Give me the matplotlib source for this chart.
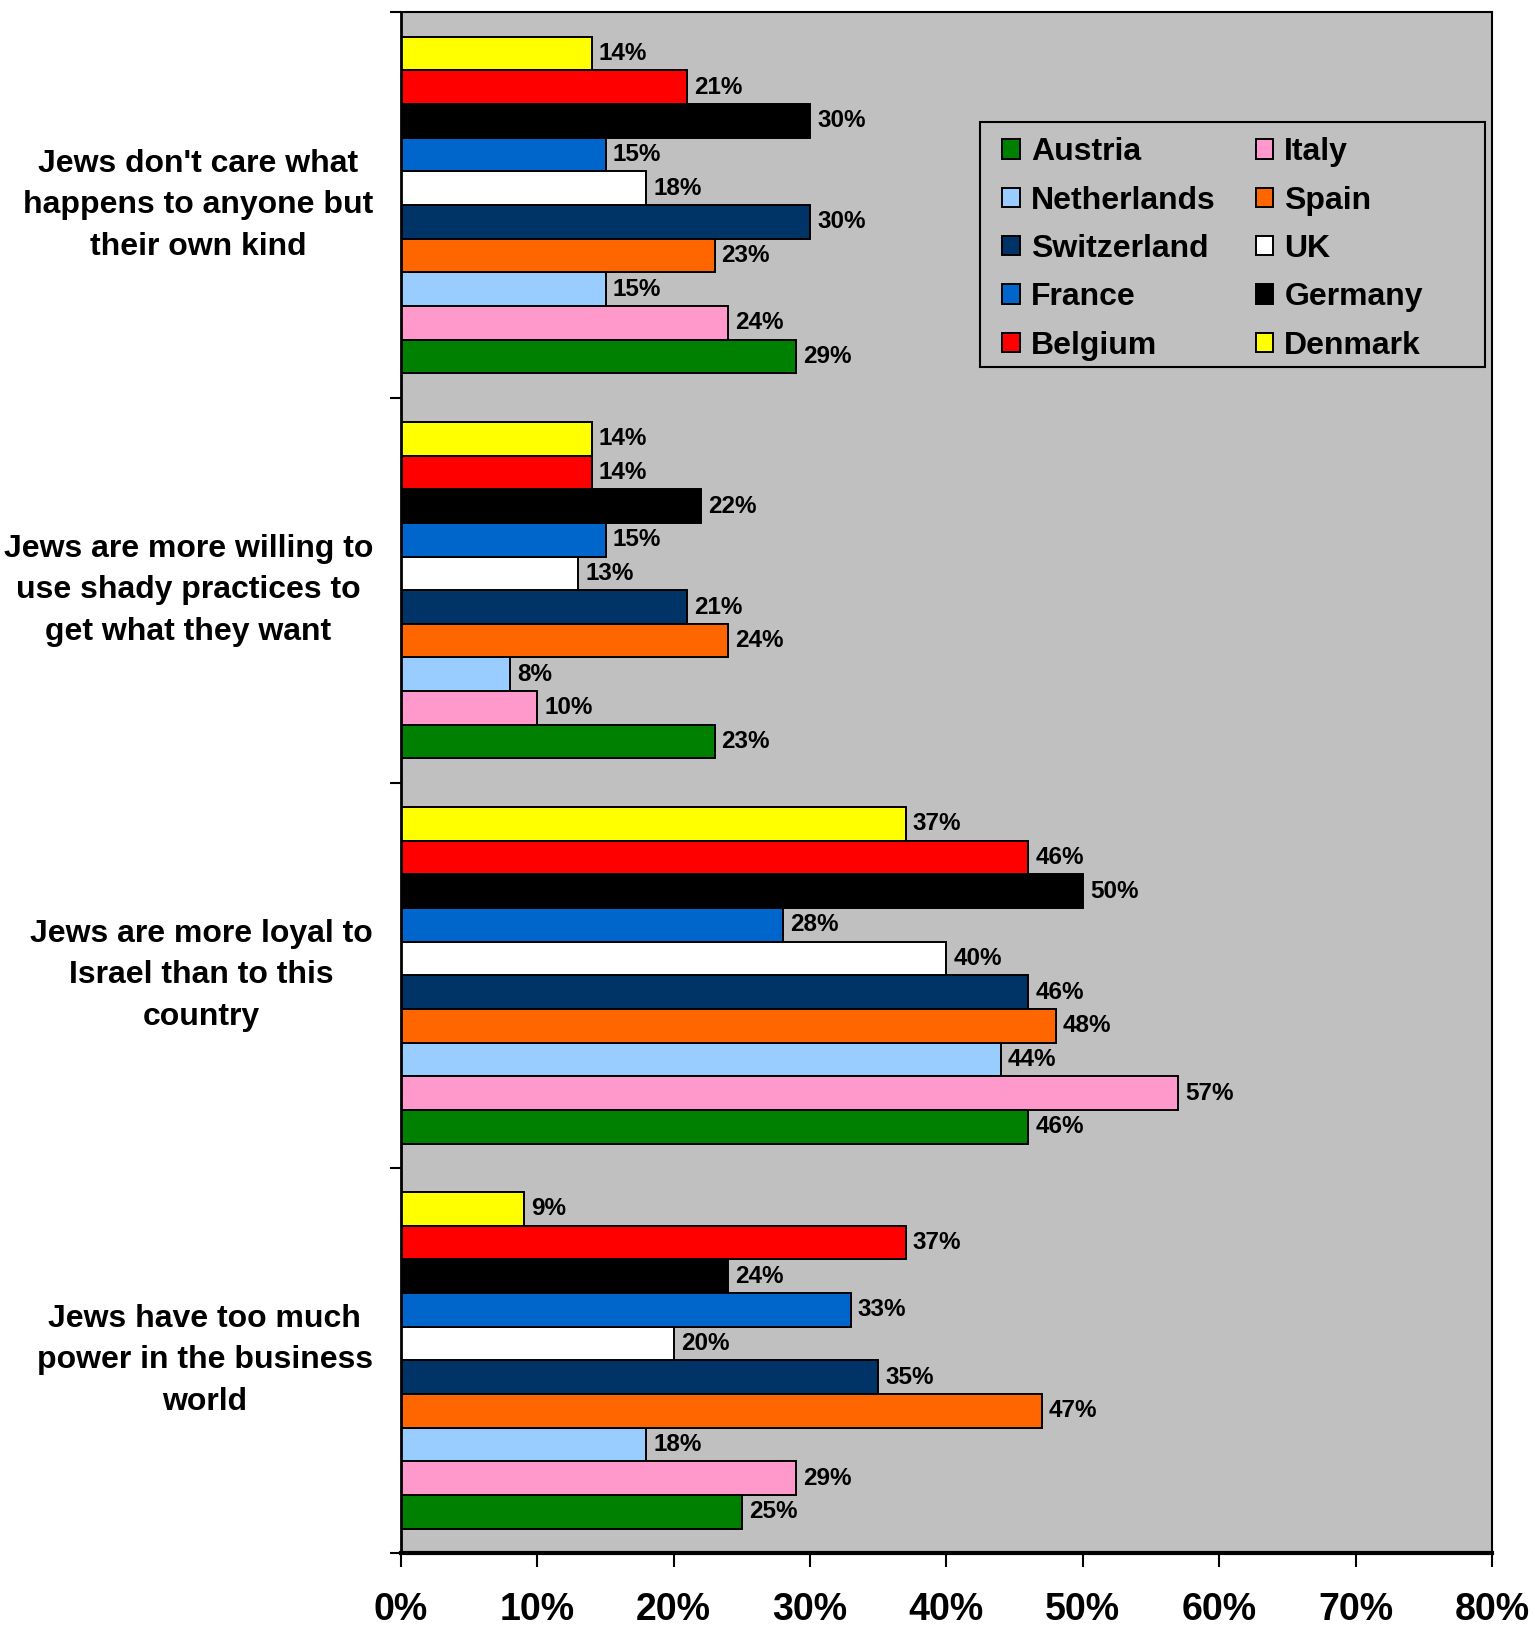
import numpy as np
import matplotlib
matplotlib.use("Agg")
import matplotlib.pyplot as plt
from matplotlib.ticker import FuncFormatter
from matplotlib.patches import Rectangle
import matplotlib.transforms as mtransforms

plt.rcParams['font.family'] = ['Liberation Sans', 'DejaVu Sans']
plt.rcParams['font.weight'] = 'bold'

# -------------------------------
# Data (percent agreeing)
# -------------------------------
categories = [
    "Jews have too much\npower in the business\nworld",
    "Jews are more loyal to\nIsrael than to this\ncountry",
    "Jews are more willing to\nuse shady practices to\nget what they want",
    "Jews don't care what\nhappens to anyone but\ntheir own kind",
]

# series order as drawn from bottom to top inside each group
countries = ["Austria", "Italy", "Netherlands", "Spain", "Switzerland",
             "UK", "France", "Germany", "Belgium", "Denmark"]
colors = ["#008000", "#FF99CC", "#99CCFF", "#FF6600", "#003366",
          "#FFFFFF", "#0066CC", "#000000", "#FF0000", "#FFFF00"]

# values per country, in the same order as categories (power, loyal, shady, don't care)
austria = [25, 46, 23, 29]
italy = [29, 57, 10, 24]
netherlands = [18, 44, 8, 15]
spain = [47, 48, 24, 23]
switzerland = [35, 46, 21, 30]
uk = [20, 40, 13, 18]
france = [33, 28, 15, 15]
germany = [24, 50, 22, 30]
belgium = [37, 46, 14, 21]
denmark = [9, 37, 14, 14]

values = [austria, italy, netherlands, spain, switzerland,
          uk, france, germany, belgium, denmark]

xticks = [0, 10, 20, 30, 40, 50, 60, 70, 80]

# -------------------------------
# Plot
# -------------------------------
fig = plt.figure(figsize=(15.35, 16.42), dpi=100)
ax = fig.add_axes([0.2612, 0.0542, 0.7108, 0.9382])
ax.set_facecolor("#C0C0C0")

y = np.arange(len(categories))
h = 0.0874
handles = {}
for i, (name, col, vals) in enumerate(zip(countries, colors, values)):
    bars = ax.barh(y + (i - 4.5) * h, vals, height=h, color=col,
                   edgecolor="black", linewidth=1.4, label=name)
    handles[name] = bars
    ax.bar_label(bars, labels=[f"{v}%" for v in vals], padding=5,
                 fontsize=17.5, fontweight="bold")

ax.set_xlim(0, 80)
ax.set_ylim(-0.5, 3.5)
ax.set_xticks(xticks)
ax.xaxis.set_major_formatter(FuncFormatter(lambda v, p: f"{v:.0f}%"))
ax.tick_params(axis="x", length=10, width=1.5, pad=18, labelsize=27)
ax.set_yticks(np.arange(-0.5, 3.6, 1.0))
ax.set_yticklabels([])
ax.tick_params(axis="y", length=8, width=1.5)

for s in ["top", "right"]:
    ax.spines[s].set_linewidth(1.5)
ax.spines["left"].set_linewidth(2)
ax.spines["bottom"].set_linewidth(3)

trans = mtransforms.blended_transform_factory(ax.transAxes, ax.transData)
for yi, lab in zip(y, categories):
    ax.text(-0.0257, yi, lab, transform=trans, ha="right", va="center",
            multialignment="center", fontsize=23, fontweight="bold",
            linespacing=1.5)

# legend box drawn separately so it can be wider than its entries
ax.add_patch(Rectangle((0.531, 0.770), 0.4626, 0.159, transform=ax.transAxes,
                       facecolor="#C0C0C0", edgecolor="black", linewidth=1.5,
                       zorder=4))
legend_order = ["Austria", "Netherlands", "Switzerland", "France", "Belgium",
                "Italy", "Spain", "UK", "Germany", "Denmark"]
leg = ax.legend([handles[n] for n in legend_order], legend_order, ncol=2,
                loc="upper left", bbox_to_anchor=(0.551, 0.919),
                fontsize=23, handlelength=0.55, handleheight=0.55,
                handletextpad=0.35, labelspacing=0.575, columnspacing=1.25,
                borderpad=0, borderaxespad=0, frameon=False)
leg.set_zorder(5)

fig.savefig("out.png", dpi=100, facecolor="white")
